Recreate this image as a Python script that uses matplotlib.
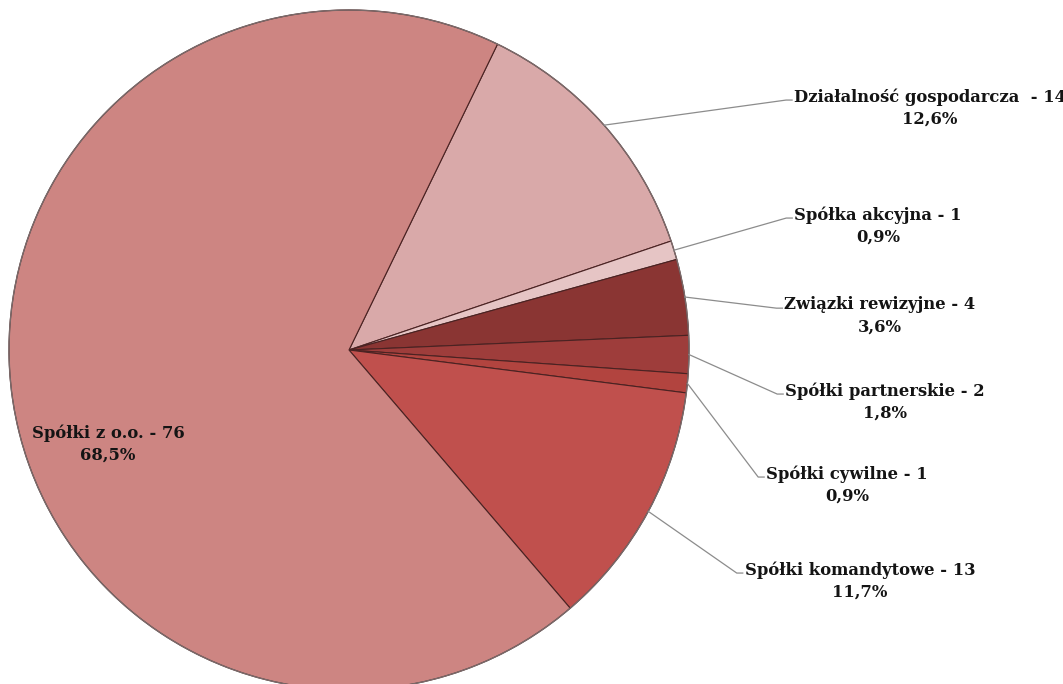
import numpy as np
import matplotlib
matplotlib.use("Agg")
import matplotlib.pyplot as plt

# dane
categories = ["Działalność gospodarcza ", "Spółka akcyjna", "Związki rewizyjne",
              "Spółki partnerskie", "Spółki cywilne", "Spółki komandytowe", "Spółki z o.o."]
values = [14, 1, 4, 2, 1, 13, 76]
colors = ["#D9A9A9", "#E6C5C5", "#8A3533", "#9E3D3B", "#B2443F", "#C0504D", "#CD8582"]

# pozycje etykiet (środek tekstu, piksele od góry)
label_pos = [(930, 108), (878, 226), (880, 316), (885, 402), (847, 485), (860, 581), (108, 444)]

W, H = 1063, 684
fig = plt.figure(figsize=(W / 100, H / 100), dpi=100)
ax = fig.add_axes([0, 0, 1, 1])

cx, cy, r = 349, H - 350, 340
wedges, _ = ax.pie(values, colors=colors, startangle=64.1, counterclock=False,
                   center=(cx, cy), radius=r, frame=True,
                   wedgeprops=dict(edgecolor="#4a2222", linewidth=0.8))
# szara obwódka jak w oryginale
ax.add_patch(plt.Circle((cx, cy), r, fill=False, edgecolor="#7a6a6a", linewidth=1.0))
ax.set_xlim(0, W)
ax.set_ylim(0, H)
ax.axis("off")

total = sum(values)
font = dict(family="DejaVu Serif", weight="bold", size=11.8, color="#141414")
texts = []
for cat, v, (lx, ly) in zip(categories, values, label_pos):
    pct = f"{100 * v / total:.1f}%".replace(".", ",")
    t = ax.text(lx, H - ly, f"{cat} - {v}\n{pct}", ha="center", va="center",
                multialignment="center", linespacing=1.4, **font)
    texts.append(t)

# linie odniesienia
fig.canvas.draw()
renderer = fig.canvas.get_renderer()
inv = ax.transData.inverted()
for w, t in zip(wedges[:-1], texts[:-1]):
    ang = np.deg2rad((w.theta1 + w.theta2) / 2)
    x0, y0 = cx + r * np.cos(ang), cy + r * np.sin(ang)
    bb = t.get_window_extent(renderer)
    (bx0, by0), (bx1, by1) = inv.transform([[bb.x0, bb.y0], [bb.x1, bb.y1]])
    ye = by1 - 0.3 * (by1 - by0)
    xe = bx0 - 2
    ax.plot([x0, xe - 6, xe], [y0, ye, ye], color="#8c8c8c", linewidth=0.9)

fig.savefig("out.png", dpi=100)
